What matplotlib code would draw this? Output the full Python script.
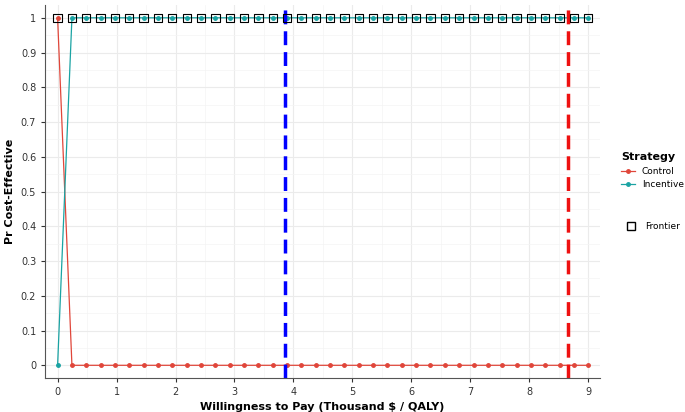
import numpy as np
import matplotlib
matplotlib.use("Agg")
import matplotlib.pyplot as plt
from matplotlib.lines import Line2D

wtp = list(np.round(np.linspace(0, 9, 38), 4))
control = [1.0] + [0.0] * 37
incentive = [0.0] + [1.0] * 37
frontier = [1.0] * 38
wtp_lines = [3.85, 8.65]
line_colors = ["#0000FF", "#EE1111"]

fig = plt.figure(figsize=(6.85, 4.12), dpi=100)
ax = fig.add_axes([0.066, 0.083, 0.81, 0.905])
ax.set_facecolor("white")
ax.grid(True, color="#EBEBEB", lw=0.8)
ax.grid(True, which="minor", color="#F4F4F4", lw=0.5)
ax.set_xticks(range(0, 10))
ax.set_yticks(np.arange(0, 1.01, 0.1))
ax.set_yticklabels(["0", "0.1", "0.2", "0.3", "0.4", "0.5", "0.6", "0.7", "0.8", "0.9", "1"])
ax.set_xticks(np.arange(0.5, 9, 1), minor=True)
ax.set_yticks(np.arange(0.05, 1, 0.1), minor=True)
ax.tick_params(which="minor", length=0)
ax.tick_params(labelsize=7, colors="#333333", length=3)
for s in ["top", "right"]:
    ax.spines[s].set_visible(False)
for s in ["left", "bottom"]:
    ax.spines[s].set_color("#555555")
ax.set_xlim(-0.21, 9.2)
ax.set_ylim(-0.036, 1.037)

ax.plot(wtp, control, color="#E0463A", lw=0.9, marker="o", ms=2.5)
ax.plot(wtp, incentive, color="#1AA3A3", lw=0.9, marker="o", ms=2.5)
ax.scatter(wtp, frontier, marker="s", s=36, facecolors="none", edgecolors="black", lw=0.8, zorder=5)
for v, c in zip(wtp_lines, line_colors):
    ax.axvline(v, color=c, lw=2.5, ls=(0, (4, 2)))

ax.set_xlabel("Willingness to Pay (Thousand $ / QALY)", fontsize=8, fontweight="bold")
ax.set_ylabel("Pr Cost-Effective", fontsize=8, fontweight="bold")

h1 = [Line2D([], [], color="#E0463A", marker="o", ms=2.5, lw=0.9),
      Line2D([], [], color="#1AA3A3", marker="o", ms=2.5, lw=0.9)]
leg1 = fig.legend(h1, ["Control", "Incentive"], title="Strategy", loc="upper left",
                  bbox_to_anchor=(0.895, 0.65), frameon=False, fontsize=6.5,
                  title_fontproperties={"weight": "bold", "size": 8}, handlelength=1.5)
leg1._legend_box.align = "left"
h2 = [Line2D([], [], marker="s", ls="", mfc="none", mec="black", ms=6)]
fig.legend(h2, ["Frontier"], loc="upper left", bbox_to_anchor=(0.9, 0.48),
           frameon=False, fontsize=6.5, handlelength=1.5)
fig.savefig("out.png", dpi=100)
